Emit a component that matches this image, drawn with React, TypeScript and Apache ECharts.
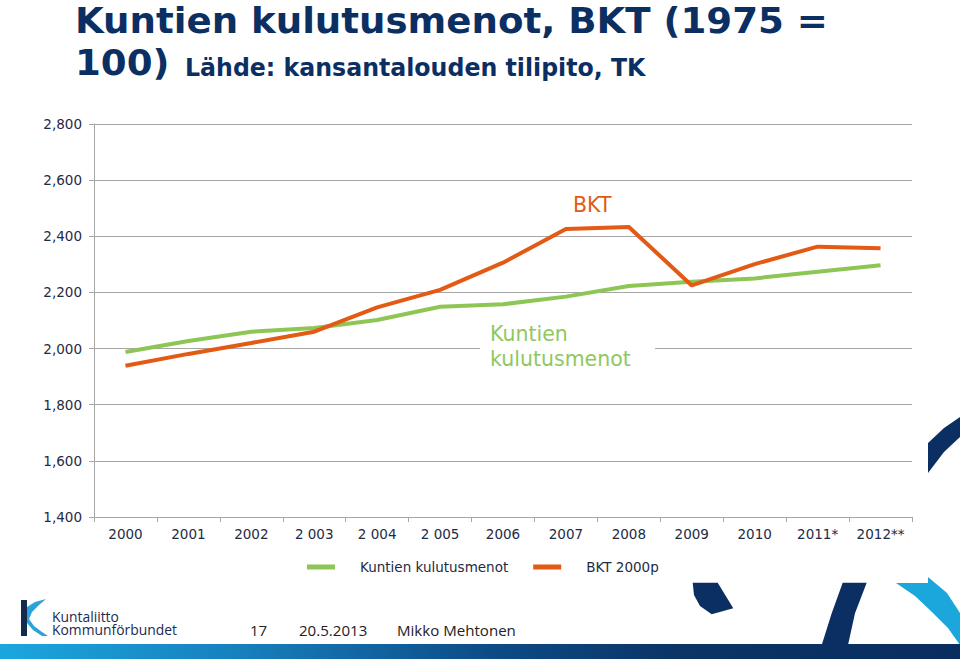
import React, { useEffect, useRef } from "react";
import * as echarts from "echarts";

const years = ["2000", "2001", "2002", "2 003", "2 004", "2 005", "2006", "2007", "2008", "2009", "2010", "2011*", "2012**"];
const kuntienKulutusmenot = [1988, 2027, 2060, 2073, 2102, 2149, 2158, 2185, 2223, 2238, 2250, 2274, 2297];
const bkt2000p = [1939, 1981, 2020, 2060, 2147, 2209, 2306, 2426, 2433, 2225, 2301, 2363, 2357];
const seriesNames = ["Kuntien kulutusmenot", "BKT 2000p"];
const yMin = 1400;
const yMax = 2800;
const yStep = 200;

const NAVY = "#0c2f63";
const GREEN = "#8dc655";
const ORANGE = "#e35a14";
const LIGHTBLUE = "#1ba6dc";

function fitScale(text: string, font: string, target: number) {
  const c = document.createElement("canvas").getContext("2d");
  if (!c) return 1;
  c.font = font;
  const w = c.measureText(text).width;
  return w > 0 ? target / w : 1;
}

export default function App() {
  const ref = useRef<HTMLDivElement>(null);
  useEffect(() => {
    if (!ref.current) return;
    const chart = echarts.init(ref.current, null, { renderer: "svg" });
    const titleFont = 'bold 35px "DejaVu Sans"';
    const title1 = "Kuntien kulutusmenot, BKT (1975 =";
    const s1 = fitScale(title1, titleFont, 753);
    const subFont = 'bold 25px "DejaVu Sans"';
    const sub = "Lähde: kansantalouden tilipito, TK";
    const s2 = fitScale(sub, subFont, 461);
    const logoFont = '15px "Open Sans"';
    const sLogo = fitScale("Kommunförbundet", logoFont, 125);
    const footFont = '15px "Open Sans"';
    const sFoot = fitScale("Mikko Mehtonen", footFont, 119);

    const txt = (
      text: string,
      x: number,
      y: number,
      font: string,
      fill: string,
      scaleX = 1,
      z = 10,
      lineHeight?: number
    ) => ({
      type: "text",
      x,
      y,
      scaleX,
      z,
      style: { text, font, fill, textAlign: "left", textVerticalAlign: "middle", lineHeight },
    });

    const labelFont = { fontFamily: "DejaVu Sans", fontSize: 13.5, color: "#1e2b45" };

    chart.setOption({
      animation: false,
      backgroundColor: "#ffffff",
      grid: { left: 94, right: 48, top: 124, bottom: 142 },
      legend: {
        left: 302,
        top: 555,
        icon: "rect",
        itemWidth: 28,
        itemHeight: 5,
        itemGap: 25,
        data: seriesNames,
        textStyle: { ...labelFont, fontSize: 13.5, padding: [0, 0, 0, 20] },
      },
      xAxis: {
        type: "category",
        data: years,
        boundaryGap: true,
        axisLine: { lineStyle: { color: "#a6a6a6", width: 1 } },
        axisTick: { show: true, length: 5, lineStyle: { color: "#a6a6a6" } },
        axisLabel: { ...labelFont, margin: 10, interval: 0 },
        splitLine: { show: false },
      },
      yAxis: {
        type: "value",
        min: yMin,
        max: yMax,
        interval: yStep,
        axisLine: { show: true, lineStyle: { color: "#a6a6a6", width: 1 } },
        axisTick: { show: true, length: 5, lineStyle: { color: "#a6a6a6" } },
        axisLabel: {
          ...labelFont,
          margin: 12,
          formatter: (v: number) => v.toLocaleString("en-US"),
        },
        splitLine: { lineStyle: { color: "#a6a6a6", width: 1 } },
      },
      series: [
        {
          name: seriesNames[0],
          type: "line",
          data: kuntienKulutusmenot,
          symbol: "none",
          color: GREEN,
          lineStyle: { width: 4, color: GREEN },
          z: 3,
        },
        {
          name: seriesNames[1],
          type: "line",
          data: bkt2000p,
          symbol: "none",
          color: ORANGE,
          lineStyle: { width: 4, color: ORANGE },
          z: 4,
        },
      ],
      graphic: [
        // title
        txt(title1, 75, 21, titleFont, NAVY, s1, 10, 35),
        txt("100)", 75, 63, titleFont, NAVY, s1, 10, 35),
        txt(sub, 185, 67, subFont, NAVY, s2, 10, 25),
        // annotations
        {
          type: "rect",
          z: 20,
          shape: { x: 480, y: 318, width: 175, height: 54 },
          style: { fill: "#ffffff" },
        },
        txt("Kuntien", 490, 334, '20.5px "DejaVu Sans"', "#90c85e", 1, 21),
        txt("kulutusmenot", 490, 359, '20.5px "DejaVu Sans"', "#90c85e", 1, 21),
        txt("BKT", 573, 205, '20.5px "DejaVu Sans"', ORANGE, 1, 21),
        // decorative swooshes
        {
          type: "polygon",
          z: 1,
          shape: { points: [[928, 443], [944, 428], [960, 417], [960, 437], [944, 452], [928, 473]] },
          style: { fill: NAVY },
        },
        {
          type: "polygon",
          z: 1,
          shape: { points: [[692.7, 582.7], [717.7, 582.7], [733.3, 608.3], [711.7, 614.3], [700, 606], [694, 595]] },
          style: { fill: NAVY },
        },
        {
          type: "polygon",
          z: 1,
          shape: { points: [[842.7, 582.7], [866.7, 582.7], [855, 613.3], [848, 645], [821.7, 645], [831.7, 613.3]] },
          style: { fill: NAVY },
        },
        {
          type: "polygon",
          z: 1,
          shape: {
            points: [[896, 583], [928, 583], [928, 577], [947, 593], [960, 613], [960, 645], [948, 628], [933, 613], [915, 596]],
          },
          style: { fill: LIGHTBLUE },
        },
        // footer bar
        {
          type: "rect",
          z: 2,
          shape: { x: 0, y: 644, width: 960, height: 15 },
          style: {
            fill: new echarts.graphic.LinearGradient(0, 0, 1, 0, [
              { offset: 0, color: "#1ca6de" },
              { offset: 0.25, color: "#1680bd" },
              { offset: 0.5, color: "#0d4d88" },
              { offset: 0.7, color: "#0b3467" },
              { offset: 1, color: "#0a2d60" },
            ]),
          },
        },
        // logo
        {
          type: "rect",
          z: 2,
          shape: { x: 21, y: 600, width: 6, height: 36 },
          style: { fill: "#14294c" },
        },
        {
          type: "polygon",
          z: 3,
          shape: {
            points: [[27, 607], [35, 602], [46, 599], [39, 605], [32, 612], [29, 619], [34, 626], [42, 632], [48, 636], [42, 636], [33, 630], [27, 623]],
          },
          style: { fill: "#2aa4d8" },
        },
        txt("Kuntaliitto", 52, 616.5, logoFont, "#1b2a4e", sLogo),
        txt("Kommunförbundet", 52, 629, logoFont, "#1b2a4e", sLogo),
        // footer texts
        txt("17", 250, 630.5, footFont, "#222222", sFoot),
        txt("20.5.2013", 299, 630.5, footFont, "#222222", sFoot),
        txt("Mikko Mehtonen", 397, 630.5, footFont, "#222222", sFoot),
      ],
    });
    return () => chart.dispose();
  }, []);
  return <div ref={ref} style={{ position: "fixed", left: 0, top: 0, width: 960, height: 659 }} />;
}
